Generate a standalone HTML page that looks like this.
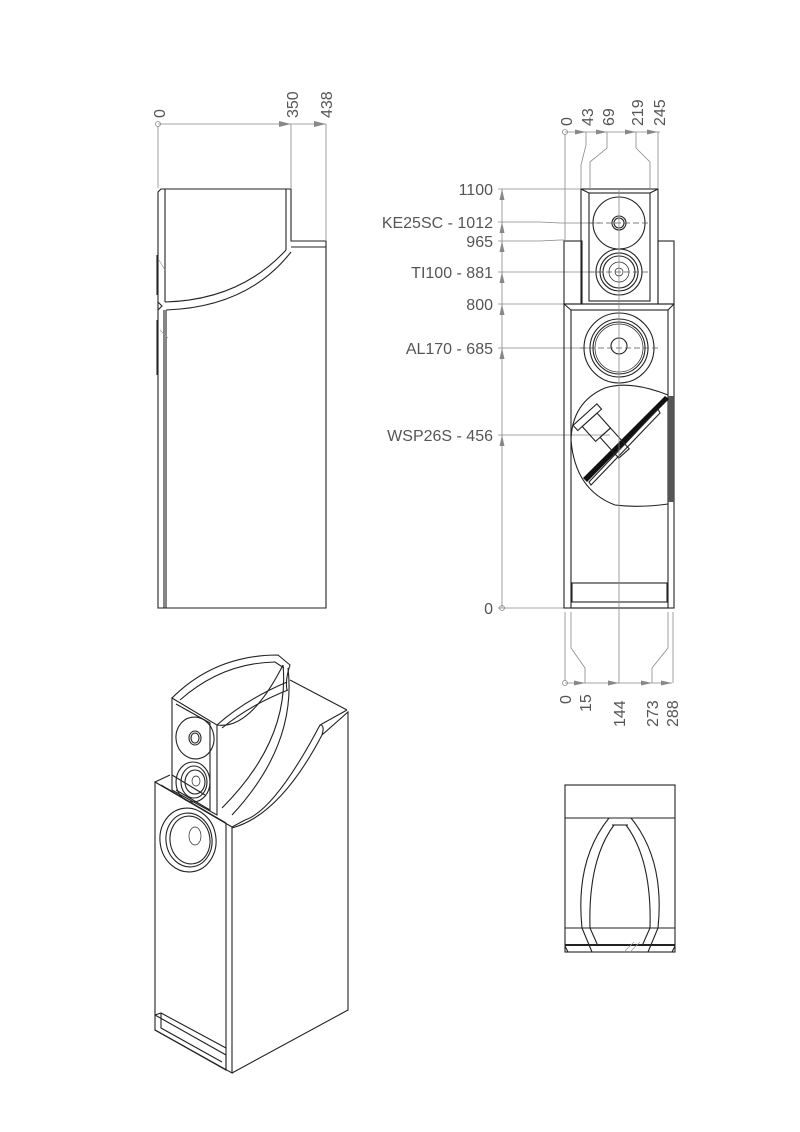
<!DOCTYPE html>
<html><head><meta charset="utf-8"><style>
html,body{margin:0;padding:0;background:#fff;}
svg{display:block;}
.l{fill:none;stroke:#222;stroke-width:1.1}
.t{fill:none;stroke:#222;stroke-width:0.7}
.d{fill:none;stroke:#888;stroke-width:0.8}
.c{fill:none;stroke:#555;stroke-width:0.7;stroke-dasharray:6 3}
text{font-family:"Liberation Sans",sans-serif;fill:#555;font-size:16px}
.a{fill:#888;stroke:none}
</style></head><body>
<svg width="800" height="1132" viewBox="0 0 800 1132" xmlns="http://www.w3.org/2000/svg">
<!-- SIDE VIEW -->
<line class="d" x1="158" y1="124" x2="326" y2="124"/>
<circle class="d" cx="158" cy="124" r="2.5"/>
<polygon class="a" points="291,124 279,121 279,127"/>
<polygon class="a" points="326,124 314,121 314,127"/>
<line class="d" x1="158" y1="126" x2="158" y2="188"/>
<line class="d" x1="291" y1="124" x2="291" y2="188"/>
<line class="d" x1="326" y1="124" x2="326" y2="240"/>
<text transform="translate(165,118) rotate(-90)">0</text>
<text transform="translate(298,118) rotate(-90)">350</text>
<text transform="translate(332,118) rotate(-90)">438</text>
<path class="l" d="M161,189 L291,189 L291,241 L326,241 L326,608 L158,608 L158,192 Z"/>
<line class="l" x1="165" y1="189" x2="165" y2="302"/>
<line class="l" x1="286" y1="189" x2="286" y2="250"/>
<line class="l" x1="291" y1="247" x2="326" y2="247"/>
<line class="l" x1="164" y1="310" x2="164" y2="608"/>
<line class="l" x1="166" y1="310" x2="166" y2="608"/>
<path class="l" d="M165,302 Q240,300 286,250"/>
<path class="l" d="M166,310 Q248,307 291,252"/>
<path class="l" d="M158,302 L162,306 L158,310"/>
<line class="l" x1="157" y1="255" x2="157" y2="295"/>
<line class="l" x1="157" y1="320" x2="157" y2="375"/>
<line class="t" x1="159" y1="260" x2="165" y2="270" style="stroke:#999"/>
<line class="t" x1="160" y1="330" x2="168" y2="338" style="stroke:#999"/>

<!-- FRONT VIEW -->
<line class="d" x1="565" y1="132" x2="660" y2="132"/>
<circle class="d" cx="565" cy="132" r="2.5"/>
<polygon class="a" points="586,132 575,129.5 575,134.5"/>
<polygon class="a" points="607,132 596,129.5 596,134.5"/>
<polygon class="a" points="636,132 625,129.5 625,134.5"/>
<polygon class="a" points="658,132 647,129.5 647,134.5"/>
<line class="d" x1="565" y1="134" x2="565" y2="240"/>
<path class="d" d="M586,132 L586,145 L581,165 L581,188"/>
<path class="d" d="M607,132 L607,148 L590,162 L590,188"/>
<path class="d" d="M636,132 L636,148 L650,162 L650,188"/>
<path class="d" d="M658,132 L658,188"/>
<text transform="translate(572,126) rotate(-90)">0</text>
<text transform="translate(593,126) rotate(-90)">43</text>
<text transform="translate(614,126) rotate(-90)">69</text>
<text transform="translate(643,126) rotate(-90)">219</text>
<text transform="translate(665,126) rotate(-90)">245</text>

<!-- vertical dims -->
<line class="d" x1="502" y1="189" x2="502" y2="608"/>
<circle class="d" cx="502" cy="608" r="2.5"/>
<g class="a">
<polygon points="502,189 499.5,200 504.5,200"/>
<polygon points="502,222 499.5,233 504.5,233"/>
<polygon points="502,241 499.5,252 504.5,252"/>
<polygon points="502,272 499.5,283 504.5,283"/>
<polygon points="502,304 499.5,315 504.5,315"/>
<polygon points="502,348 499.5,359 504.5,359"/>
<polygon points="502,435 499.5,446 504.5,446"/>
</g>
<g class="d">
<line x1="498" y1="189" x2="581" y2="189"/>
<path d="M498,222 L540,222 L560,223 L600,223"/>
<path d="M498,241 L540,241 L560,240 L564,240"/>
<line x1="498" y1="272" x2="600" y2="272"/>
<line x1="498" y1="304" x2="564" y2="304"/>
<line x1="498" y1="348" x2="590" y2="348"/>
<line x1="498" y1="435" x2="610" y2="435"/>
<line x1="498" y1="608" x2="564" y2="608"/>
</g>
<g text-anchor="end">
<text x="493" y="195">1100</text>
<text x="493" y="228">KE25SC - 1012</text>
<text x="493" y="247">965</text>
<text x="493" y="278">TI100 - 881</text>
<text x="493" y="310">800</text>
<text x="493" y="354">AL170 - 685</text>
<text x="493" y="441">WSP26S - 456</text>
<text x="493" y="614">0</text>
</g>

<!-- top module -->
<rect class="l" x="564" y="241" width="18" height="63"/>
<rect class="l" x="658" y="241" width="16" height="63"/>
<rect class="l" x="581" y="189" width="77" height="115"/>
<rect class="l" x="589" y="193" width="61" height="108"/>
<line class="l" x1="581" y1="189" x2="589" y2="193"/>
<line class="l" x1="658" y1="189" x2="650" y2="193"/>
<circle class="l" cx="619" cy="223" r="26"/>
<circle class="l" cx="619" cy="223" r="7"/>
<circle class="l" cx="619" cy="223" r="5"/>
<circle class="l" cx="619" cy="272" r="23"/>
<circle class="l" cx="619" cy="272" r="19"/>
<circle class="l" cx="619" cy="272" r="16"/>
<circle class="t" cx="619" cy="272" r="10"/>
<circle class="t" cx="619" cy="272" r="4"/>
<line class="c" x1="588" y1="223" x2="650" y2="223"/>
<line class="c" x1="588" y1="272" x2="650" y2="272"/>

<!-- main body -->
<rect class="l" x="564" y="304" width="110" height="304"/>
<rect class="l" x="571" y="310" width="97" height="298"/>
<line class="l" x1="564" y1="304" x2="571" y2="310"/>
<line class="l" x1="674" y1="304" x2="668" y2="310"/>
<rect class="l" x="572" y="583" width="95" height="19"/>
<line class="l" x1="571" y1="602" x2="668" y2="602"/>
<circle class="l" cx="619" cy="348" r="35"/>
<circle class="l" cx="619" cy="348" r="29"/>
<circle class="l" cx="619" cy="348" r="26"/>
<circle class="t" cx="619" cy="348" r="24"/>
<circle class="l" cx="619" cy="346" r="8"/>
<line class="c" x1="580" y1="348" x2="660" y2="348"/>
<!-- WSP section -->
<path class="l" d="M668,395 Q630,380 605,388 Q572,402 571,440 Q575,490 615,505 Q640,508 668,504"/>
<rect x="668" y="396" width="6" height="106" fill="#555"/>
<polygon points="583,478 665,396 669,399 587,482" fill="#111"/>
<polygon class="l" points="589,482 658,409 660,413 591,485"/>
<g transform="rotate(-42 606 432)">
<rect class="l" x="586" y="405" width="32" height="7"/>
<rect class="l" x="592" y="412" width="20" height="20"/>
<rect class="l" x="598" y="432" width="14" height="28"/>
</g>
<line class="d" x1="619" y1="190" x2="619" y2="683"/>

<!-- bottom dims -->
<line class="d" x1="565" y1="683" x2="672" y2="683"/>
<circle class="d" cx="565" cy="683" r="2.5"/>
<polygon class="a" points="585,683 574,680.5 574,685.5"/>
<polygon class="a" points="619,683 608,680.5 608,685.5"/>
<polygon class="a" points="652,683 641,680.5 641,685.5"/>
<polygon class="a" points="672,683 661,680.5 661,685.5"/>
<line class="d" x1="565" y1="612" x2="565" y2="681"/>
<path class="d" d="M571,612 L571,648 L585,668 L585,683"/>
<path class="d" d="M668,612 L668,648 L652,668 L652,683"/>
<line class="d" x1="673" y1="612" x2="673" y2="683"/>
<text transform="translate(571,704) rotate(-90)">0</text>
<text transform="translate(591,712) rotate(-90)">15</text>
<text transform="translate(625,727) rotate(-90)">144</text>
<text transform="translate(658,727) rotate(-90)">273</text>
<text transform="translate(678,727) rotate(-90)">288</text>

<!-- TOP VIEW -->
<rect class="l" x="565" y="785" width="110" height="167"/>
<line class="l" x1="565" y1="818" x2="675" y2="818"/>
<line class="l" x1="565" y1="928" x2="675" y2="928"/>
<rect x="565" y="944" width="110" height="2" fill="#222"/>
<line class="l" x1="565" y1="946" x2="568" y2="952"/>
<line class="l" x1="675" y1="946" x2="672" y2="952"/>
<path class="l" d="M609,818 Q575,860 582,928 L592,952"/>
<path class="l" d="M631,818 Q665,860 658,928 L648,952"/>
<path class="l" d="M614,825 Q588,860 590,928 L598,946"/>
<path class="l" d="M626,825 Q652,860 650,928 L642,946"/>
<line class="l" x1="612" y1="825" x2="628" y2="825"/>
<line class="t" x1="624" y1="952" x2="634" y2="942" style="stroke:#999"/>
<line class="t" x1="630" y1="952" x2="640" y2="942" style="stroke:#999"/>

<!-- ISO VIEW -->
<!-- top module -->
<path class="l" d="M172,698 Q215,655 278,655 L290,665 Q285,680 287,690"/>
<path class="l" d="M180,700 Q222,663 275,662 L284,668"/>
<path class="l" d="M172,698 L217,725 L217,815 L172,790 Z"/>
<path class="l" d="M176,704 L210,723 L210,810 L176,790"/>
<path class="l" d="M217,725 Q245,700 287,682"/>
<path class="l" d="M222,728 Q250,705 288,690"/>
<path class="l" d="M217,725 Q250,730 283,665"/>
<path class="l" d="M288,668 Q297,745 232,815"/>
<path class="l" d="M283,665 Q290,740 222,808"/>
<ellipse class="l" cx="195" cy="738" rx="19" ry="21" transform="rotate(-10 195 738)"/>
<ellipse class="l" cx="195" cy="738" rx="6" ry="7"/>
<ellipse class="l" cx="195" cy="738" rx="4" ry="5"/>
<ellipse class="l" cx="193" cy="782" rx="17" ry="20"/>
<ellipse class="l" cx="194" cy="782" rx="13" ry="16"/>
<ellipse class="l" cx="195" cy="782" rx="10" ry="12"/>
<ellipse class="t" cx="196" cy="781" rx="4" ry="5"/>
<!-- lower body -->
<path class="l" d="M155,782 L170,775"/>
<path class="l" d="M155,782 L232,827 L232,1073 L155,1030 Z"/>
<path class="l" d="M161,785 L226,823"/>
<line class="l" x1="226" y1="823" x2="226" y2="1070"/>
<path class="l" d="M232,827 L245,820"/>
<path class="l" d="M232,828 Q280,815 322,735 L348,712 L348,1010 L232,1073"/>
<path class="l" d="M245,820 Q275,810 320,725 L347,710"/>
<path class="l" d="M290,680 L347,710"/>
<path class="l" d="M322,735 Q325,725 320,725"/>
<path class="l" d="M172,775 L205,795"/>
<!-- bottom foot -->
<path class="l" d="M155,1015 L226,1055 L226,1070 L155,1030"/>
<path class="l" d="M161,1013 L161,1028 L222,1062"/>
<path class="l" d="M155,1015 L161,1013 L226,1048"/>
<!-- woofer -->
<ellipse class="l" cx="188" cy="840" rx="28" ry="32" transform="rotate(-8 188 840)"/>
<ellipse class="l" cx="189" cy="840" rx="23" ry="27" transform="rotate(-8 189 840)"/>
<ellipse class="l" cx="190" cy="840" rx="20" ry="24" transform="rotate(-8 190 840)"/>
<ellipse class="t" cx="195" cy="836" rx="6" ry="9"/>
</svg>
</body></html>
